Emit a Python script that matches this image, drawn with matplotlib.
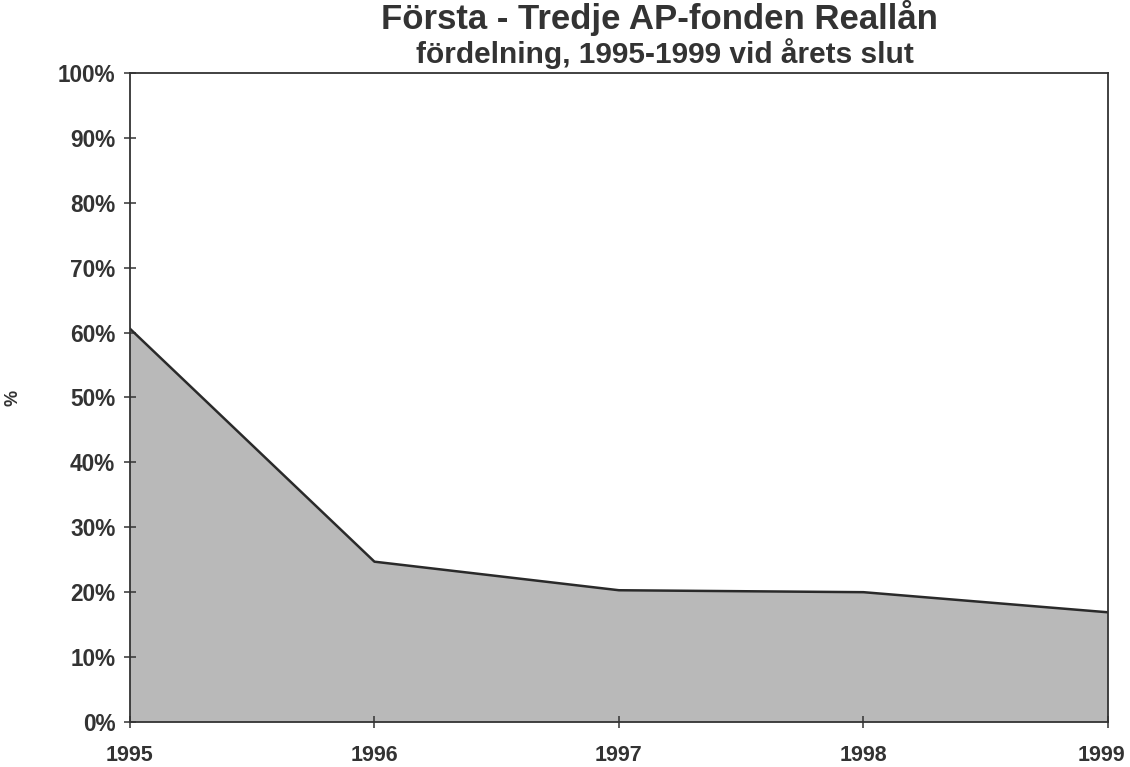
import matplotlib.pyplot as plt
import matplotlib.transforms as mtransforms
from matplotlib.ticker import PercentFormatter

plt.rcParams['font.family'] = ['Liberation Sans', 'DejaVu Sans']

# Andel reallån vid årets slut (%)
years = [1995, 1996, 1997, 1998, 1999]
share = [60.6, 24.7, 20.3, 20.0, 16.9]

fig = plt.figure(figsize=(11.3, 7.67), dpi=100)
ax = fig.add_axes([0.115, 0.0587, 0.8655, 0.8461])

ax.fill_between(years, share, 0, facecolor='#b9b9b9', edgecolor='none')
ax.plot(years, share, color='#2a2a2a', lw=1.8)

ax.set_xlim(1995, 1999)
ax.set_ylim(0, 100)
ax.set_xticks(years)
ax.set_yticks(range(0, 101, 10))
ax.yaxis.set_major_formatter(PercentFormatter(decimals=0))

for s in ax.spines.values():
    s.set_color('#333333')
    s.set_linewidth(1.3)

ax.tick_params(axis='both', direction='inout', length=9, width=1.1, color='#333333',
               labelcolor='#333333')
ax.tick_params(axis='y', pad=6, labelsize=16.3)
ax.tick_params(axis='x', pad=12, labelsize=15.5)
for lab in ax.get_xticklabels() + ax.get_yticklabels():
    lab.set_fontweight('bold')

# keep the last year label inside the figure
last = ax.get_xticklabels()[-1]
last.set_transform(last.get_transform() + mtransforms.ScaledTranslation(-5 / 72, 0, fig.dpi_scale_trans))

ax.set_ylabel('%', fontsize=13, fontweight='bold', color='#333333', labelpad=26)

fig.text(0.584, 0.977, 'Första - Tredje AP-fonden Reallån', ha='center', va='center',
         fontsize=25, fontweight='bold', color='#333333')
fig.text(0.588, 0.930, 'fördelning, 1995-1999 vid årets slut', ha='center', va='center',
         fontsize=21.5, fontweight='bold', color='#333333')

fig.savefig('out.png', dpi=100)
